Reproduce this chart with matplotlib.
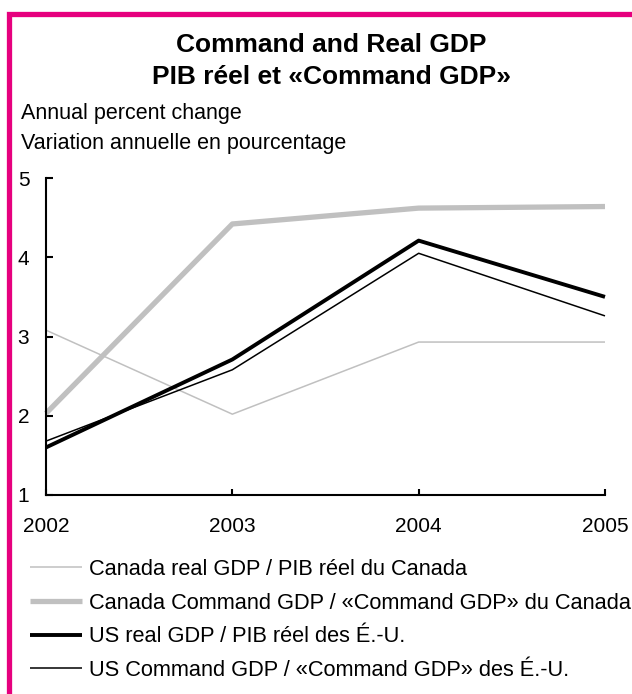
import numpy as np
import matplotlib.pyplot as plt
from matplotlib.patches import Rectangle

plt.rcParams['font.family'] = ['Liberation Sans', 'DejaVu Sans']

years = [2002, 2003, 2004, 2005]
canada_real = [3.08, 2.02, 2.93, 2.93]
canada_command = [2.03, 4.42, 4.62, 4.64]
us_real = [1.60, 2.71, 4.21, 3.50]
us_command = [1.68, 2.58, 4.05, 3.26]

labels = [
    'Canada real GDP / PIB réel du Canada',
    'Canada Command GDP / «Command GDP» du Canada',
    'US real GDP / PIB réel des É.-U.',
    'US Command GDP / «Command GDP» des É.-U.',
]

fig = plt.figure(figsize=(6.32, 6.94), dpi=100)
ax = fig.add_axes([46/632, 1 - 495/694, (605 - 46)/632, (495 - 178)/694])

ax.plot(years, canada_real, color='#c0c0c0', lw=1.1, label=labels[0])
ax.plot(years, canada_command, color='#c0c0c0', lw=3.8, label=labels[1])
ax.plot(years, us_real, color='black', lw=2.8, label=labels[2])
ax.plot(years, us_command, color='black', lw=1.1, label=labels[3])

ax.set_xlim(2002, 2005)
ax.set_ylim(1, 5)
ax.set_xticks(years)
ax.set_yticks([1, 2, 3, 4, 5])
for s in ['top', 'right']:
    ax.spines[s].set_visible(False)
for s in ['left', 'bottom']:
    ax.spines[s].set_linewidth(1.5)
ax.tick_params(axis='y', direction='in', length=5, width=1.5, labelsize=15, pad=12)
ax.tick_params(axis='x', direction='in', length=4, width=1.5, labelsize=15, pad=16)
for ln in ax.lines:
    ln.set_clip_on(False)
    ln.set_solid_capstyle('butt')

fig.text(331/632, 1 - 45/694, 'Command and Real GDP', ha='center', va='center',
         fontsize=19, fontweight='bold')
fig.text(331/632, 1 - 77/694, 'PIB réel et «Command GDP»', ha='center', va='center',
         fontsize=19, fontweight='bold')
fig.text(21/632, 1 - 114/694, 'Annual percent change', ha='left', va='center', fontsize=15.5)
fig.text(21/632, 1 - 143/694, 'Variation annuelle en pourcentage', ha='left', va='center', fontsize=15.5)

ax.legend(loc='upper left', bbox_to_anchor=(30/632, 1 - 559/694),
          bbox_transform=fig.transFigure, frameon=False, fontsize=15.7,
          handlelength=2.4, handletextpad=0.3, labelspacing=0.58,
          borderpad=0, borderaxespad=0)

# pink frame around the panel, running off the right and bottom edges
fig.patches.append(Rectangle((9/632, -0.05), 1.1, 1 - 14/694 + 0.05,
                             transform=fig.transFigure, fill=False,
                             edgecolor='#e6007e', lw=3.8))

fig.savefig('out.png', dpi=100)
